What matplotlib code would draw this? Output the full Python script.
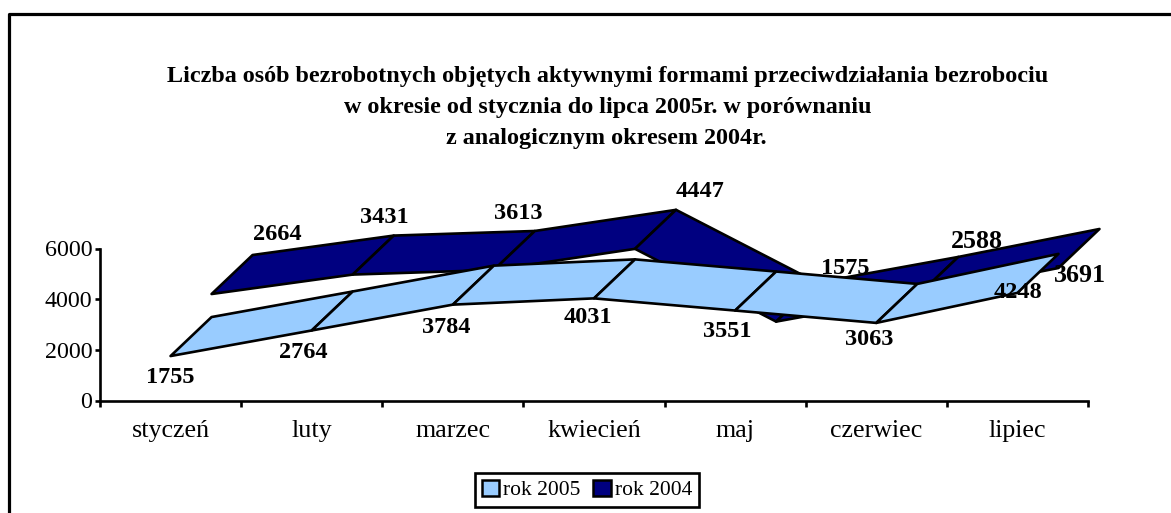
# -*- coding: utf-8 -*-
import matplotlib
matplotlib.use("Agg")
import matplotlib.pyplot as plt
from matplotlib.lines import Line2D
from matplotlib.patches import Patch
from matplotlib.transforms import Bbox

plt.rcParams['font.family'] = ['Liberation Serif', 'DejaVu Serif']

months = ["styczeń", "luty", "marzec", "kwiecień", "maj", "czerwiec", "lipiec"]
rok2005 = [1755, 2764, 3784, 4031, 3551, 3063, 4248]
rok2004 = [2664, 3431, 3613, 4447, 1575, 2588, 3691]
yticks = [0, 2000, 4000, 6000]
title_lines = ["Liczba osób bezrobotnych objętych aktywnymi formami przeciwdziałania bezrobociu",
               "w okresie od stycznia do lipca 2005r. w porównaniu",
               "z analogicznym okresem 2004r."]

W, H = 1171, 513
DEPTH_X = 41 / 141.1   # 3d depth of one ribbon, in categories
DEPTH_Y = 39 / 152 * 6000   # same, in y units

# label offsets from the ribbon corner, pixels (x right, y up)
off2005 = [(0, -21), (-8, -22), (-7, -23), (-6, -19), (-8, -21), (-7, -17), (1, 0)]
off2004 = [(25, 21), (-9, 18), (-17, 17), (24, 18), (28, 14), (19, 15), (-19, -47)]
size2004 = [17.5, 17.5, 17.5, 17.5, 17.5, 18.7, 18.7]

fig = plt.figure(figsize=(W / 100, H / 100), dpi=100, facecolor='white')
ax = fig.add_axes([100 / W, (H - 400.5) / H, 988 / W, 152 / H])
ax.set_xlim(0, 7)
ax.set_ylim(0, 6000)
ax.patch.set_visible(False)


def ribbon(values, level, color, z):
    # level 0 = front series, 1 = series behind it
    xs = [i + 0.5 + level * DEPTH_X for i in range(len(values))]
    ys = [v + level * DEPTH_Y for v in values]
    for i in range(len(values) - 1):
        px = [xs[i], xs[i + 1], xs[i + 1] + DEPTH_X, xs[i] + DEPTH_X]
        py = [ys[i], ys[i + 1], ys[i + 1] + DEPTH_Y, ys[i] + DEPTH_Y]
        ax.fill(px, py, facecolor=color, edgecolor='black', linewidth=1.9,
                joinstyle='round', clip_on=False, zorder=z)
    return xs, ys


xb, yb = ribbon(rok2004, 1, '#000080', 2)
xf, yf = ribbon(rok2005, 0, '#99CCFF', 4)

for i, v in enumerate(rok2004):
    ax.annotate(str(v), (xb[i] + DEPTH_X, yb[i] + DEPTH_Y), xytext=off2004[i],
                textcoords='offset pixels', ha='center', va='center',
                fontsize=size2004[i], fontweight='bold', zorder=3, annotation_clip=False)
for i, v in enumerate(rok2005):
    ax.annotate(str(v), (xf[i], yf[i]), xytext=off2005[i],
                textcoords='offset pixels', ha='center', va='center',
                fontsize=17.5, fontweight='bold', zorder=5, annotation_clip=False)

for s in ['top', 'right']:
    ax.spines[s].set_visible(False)
for s in ['left', 'bottom']:
    ax.spines[s].set_linewidth(1.9)
ax.set_yticks(yticks)
ax.set_xticks(range(8))
ax.set_xticklabels([])
ax.set_xticks([i + 0.5 for i in range(7)], minor=True)
ax.set_xticklabels(months, minor=True)
ax.tick_params(axis='x', which='major', length=4, width=1.9, direction='out')
ax.tick_params(axis='x', which='minor', length=0, pad=14, labelsize=18.7)
ax.tick_params(axis='y', length=3.5, width=1.9, direction='out', pad=2, labelsize=17.3)

# title lines start where they do in the picture, first one is cut on the right
for line, left, base in zip(title_lines, [167, 344, 446], [82, 113, 144]):
    t = fig.text(left / W, (H - base) / H, line, ha='left', va='baseline', fontsize=17.4,
                 fontweight='bold')
    t.set_clip_box(Bbox([[0, 0], [1048, H]]))
    t.set_clip_on(True)

# outer frame, cut by the picture on the right and at the bottom
fig.add_artist(Line2D([9 / W, 9 / W, 1], [0, (H - 14) / H, (H - 14) / H], color='black',
                      linewidth=2.3, transform=fig.transFigure))

handles = [Patch(facecolor='#99CCFF', edgecolor='black', linewidth=1.8, label='rok 2005'),
           Patch(facecolor='#000080', edgecolor='black', linewidth=1.8, label='rok 2004')]
leg = fig.legend(handles=handles, ncol=2, loc='center', bbox_to_anchor=(587 / W, (H - 490) / H),
                 fontsize=15.5, frameon=True, fancybox=False, edgecolor='black',
                 framealpha=1, handlelength=0.8, handleheight=0.8, handletextpad=0.2,
                 columnspacing=0.6, borderpad=0.3, borderaxespad=0)
leg.get_frame().set_linewidth(1.9)

fig.savefig('out.png', dpi=100)
